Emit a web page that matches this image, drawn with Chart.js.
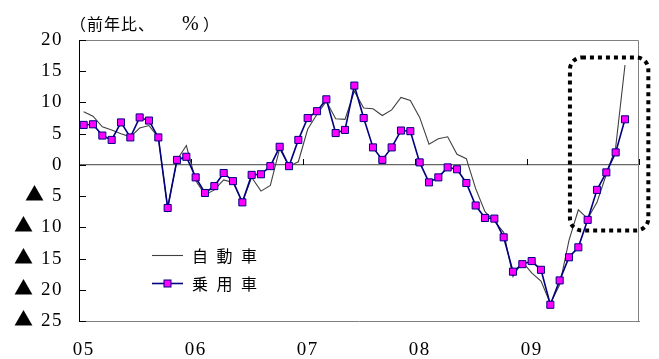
<!DOCTYPE html>
<html>
<head>
<meta charset="utf-8">
<script src="https://cdn.jsdelivr.net/npm/chart.js@4.4.0/dist/chart.umd.min.js"></script>
<style>
  html, body { margin: 0; padding: 0; background: #fff; }
  #wrap { width: 659px; height: 359px; }
  /* big black triangle for the minus sign, digits stay in the serif face */
  @font-face {
    font-family: 'TriMark';
    src: local('Noto Sans CJK JP'), local('NotoSansCJKjp-Regular'), local('DejaVu Sans');
    unicode-range: U+25B2;
  }
</style>
</head>
<body>
<div id="wrap"><canvas id="chart" width="659" height="359"></canvas></div>
<script>
// year labels on the x axis (one category per month, Jan 05 - Dec 09)
const years = ['05', '06', '07', '08', '09'];
const monthLabels = [];
years.forEach(y => {
    for (let m = 1; m <= 12; m++) monthLabels.push(y + '/' + String(m).padStart(2, '0'));
});

// 自動車 : y/y %, Jan 05 - Nov 09
const autoTotal = [
    8.5, 7.8, 6.1, 5.6, 5.0, 4.5, 5.9, 6.3, 4.4, -6.9, 0.8, 3.1,
    -2.5, -4.8, -4.0, -2.4, -2.8, -6.0, -2.0, -4.2, -3.3, 2.6, -0.2, 0.5,
    5.7, 8.1, 10.2, 7.4, 7.3, 11.8, 9.1, 9.0, 7.9, 8.8, 10.8, 10.3,
    7.6, 3.3, 4.2, 4.5, 1.7, 1.0, -3.8, -7.5, -9.0, -10.8, -17.9, -15.5,
    -17.3, -18.6, -22.2, -19.2, -12.1, -7.2, -8.6, -6.0, -1.5, 2.8, 16.0
];

// 乗用車 : y/y %, Jan 05 - Nov 09
const passengerCars = [
    6.4, 6.5, 4.7, 4.0, 6.8, 4.4, 7.6, 7.1, 4.4, -6.9, 0.8, 1.3,
    -2.0, -4.5, -3.4, -1.3, -2.6, -6.0, -1.6, -1.5, -0.2, 2.9, -0.2, 4.0,
    7.5, 8.6, 10.5, 5.1, 5.6, 12.7, 7.5, 2.8, 0.8, 2.8, 5.5, 5.4,
    0.4, -2.8, -2.0, -0.4, -0.7, -2.9, -6.5, -8.5, -8.6, -11.6, -17.1, -15.9,
    -15.4, -16.8, -22.4, -18.5, -14.8, -13.2, -8.8, -4.0, -1.2, 2.0, 7.3
];

const yMin = -25, yMax = 20, yStep = 5;

// dotted highlight box (x in month index, y in %)
const boxFrom = 52.1, boxTo = 60.5, boxTop = 17.2, boxBottom = -10.5;

const serif = "'Liberation Serif', 'Times New Roman', serif";
const tickFont = "'TriMark', " + serif;
const jp = "'Noto Sans CJK JP', 'Noto Sans', sans-serif";

const whiteBg = {
    id: 'whiteBg',
    beforeDraw(chart) {
        const ctx = chart.ctx;
        ctx.save();
        ctx.fillStyle = '#fff';
        ctx.fillRect(0, 0, chart.width, chart.height);
        ctx.restore();
        // the axis numbers in the original are set a little wide
        ctx.letterSpacing = '1.5px';
    }
};

// frame, inner y ticks and year ticks on the zero line
const frame = {
    id: 'frame',
    beforeDatasetsDraw(chart) {
        const { ctx, chartArea: a, scales: { x, y } } = chart;
        ctx.save();
        ctx.strokeStyle = '#808080';
        ctx.lineWidth = 1;
        ctx.beginPath();
        ctx.moveTo(a.left, a.top + 0.5);
        ctx.lineTo(a.right - 0.5, a.top + 0.5);
        ctx.lineTo(a.right - 0.5, a.bottom);
        ctx.stroke();

        ctx.strokeStyle = '#000';
        ctx.beginPath();
        for (let v = yMin; v <= yMax; v += yStep) {
            const py = Math.round(y.getPixelForValue(v)) + 0.5;
            ctx.moveTo(a.left, py);
            ctx.lineTo(a.left + 7, py);
        }
        const zy = Math.round(y.getPixelForValue(0));
        for (let i = 12; i <= monthLabels.length; i += 12) {
            const px = Math.round(x.getPixelForValue(i - 0.5)) + 0.5;
            ctx.moveTo(px, zy);
            ctx.lineTo(px, zy - 6);
        }
        ctx.stroke();
        ctx.restore();
    }
};

function drawSpaced(ctx, text, x, y, pitch) {
    for (const ch of text) {
        ctx.fillText(ch, x, y);
        x += pitch;
    }
}

const extras = {
    id: 'extras',
    afterDatasetsDraw(chart) {
        const { ctx, scales: { x, y } } = chart;
        const ds = chart.data.datasets;
        ctx.save();
        ctx.letterSpacing = '0px';

        // dotted box
        const l = x.getPixelForValue(boxFrom), r = x.getPixelForValue(boxTo);
        const t = y.getPixelForValue(boxTop), b = y.getPixelForValue(boxBottom);
        ctx.strokeStyle = '#000';
        ctx.lineWidth = 4;
        ctx.setLineDash([4, 4]);
        ctx.beginPath();
        ctx.roundRect(l, t, r - l, b - t, 12);
        ctx.stroke();
        ctx.setLineDash([]);

        // legend
        const rows = [ds[1], ds[0]];
        rows.forEach((d, k) => {
            const ly = 255 + k * 28;
            ctx.strokeStyle = d.borderColor;
            ctx.lineWidth = d.borderWidth;
            ctx.beginPath();
            ctx.moveTo(152, ly + 0.5);
            ctx.lineTo(183, ly + 0.5);
            ctx.stroke();
            if (d.pointRadius > 0) {
                ctx.fillStyle = d.pointBackgroundColor;
                ctx.strokeStyle = d.pointBorderColor;
                ctx.lineWidth = 1;
                ctx.fillRect(164, ly - 3, 7, 7);
                ctx.strokeRect(164, ly - 3, 7, 7);
            }
            ctx.fillStyle = '#000';
            ctx.font = '16px ' + jp;
            ctx.textBaseline = 'middle';
            drawSpaced(ctx, d.label, 192, ly + 1, 24.5);
        });
        ctx.restore();
    },
    afterDraw(chart) {
        const ctx = chart.ctx;
        ctx.save();
        ctx.letterSpacing = '0px';
        ctx.fillStyle = '#000';
        ctx.textBaseline = 'middle';
        ctx.font = '16px ' + jp;
        drawSpaced(ctx, '（前年比、', 70, 24, 17);
        ctx.font = '20px ' + serif;
        ctx.fillText('%', 182, 25);
        ctx.font = '16px ' + jp;
        ctx.fillText('）', 203, 24);
        ctx.restore();
    }
};

function drawChart() {
    new Chart(document.getElementById('chart'), {
        type: 'line',
        data: {
            labels: monthLabels,
            datasets: [
                {
                    label: '乗用車',
                    data: passengerCars,
                    borderColor: '#000080',
                    borderWidth: 1.6,
                    pointStyle: 'rect',
                    pointRadius: 5,
                    pointBackgroundColor: '#ff00ff',
                    pointBorderColor: '#000080',
                    pointBorderWidth: 1,
                    tension: 0,
                    order: 1
                },
                {
                    label: '自動車',
                    data: autoTotal,
                    borderColor: '#404040',
                    borderWidth: 1.1,
                    pointRadius: 0,
                    tension: 0,
                    order: 2
                }
            ]
        },
        options: {
            responsive: false,
            animation: false,
            devicePixelRatio: 1,
            layout: { padding: { top: 40, right: 20, left: 0, bottom: 0 } },
            plugins: {
                legend: { display: false },
                tooltip: { enabled: false }
            },
            scales: {
                x: {
                    type: 'category',
                    offset: true,
                    grid: { display: false, drawTicks: false },
                    border: { display: true, color: '#808080', width: 1 },
                    ticks: {
                        autoSkip: false,
                        maxRotation: 0,
                        padding: 18,
                        color: '#000',
                        font: { family: serif, size: 19 },
                        callback: function (val, i) {
                            return i % 12 === 0 ? years[i / 12] : '';
                        }
                    },
                    afterFit: s => { s.height = 38; }
                },
                y: {
                    min: yMin,
                    max: yMax,
                    grid: {
                        drawTicks: false,
                        color: c => (c.tick && c.tick.value === 0 ? '#666' : 'transparent'),
                        lineWidth: 1.2
                    },
                    border: { display: true, color: '#000', width: 1 },
                    ticks: {
                        stepSize: yStep,
                        padding: 16,
                        color: '#000',
                        font: { family: tickFont, size: 19 },
                        callback: v => (v < 0 ? '▲ ' + (-v) : String(v))
                    },
                    afterFit: s => { s.width = 79; }
                }
            }
        },
        plugins: [whiteBg, frame, extras]
    });
}

document.fonts.load('19px TriMark', '▲').then(drawChart, drawChart);
</script>
</body>
</html>
